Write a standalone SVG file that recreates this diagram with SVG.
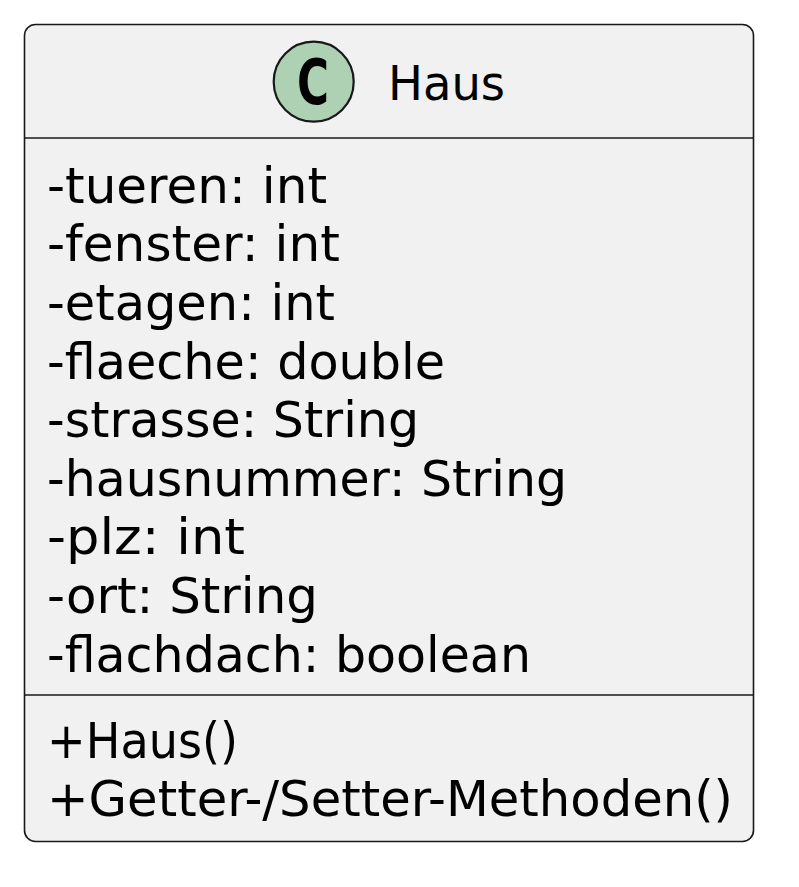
<svg xmlns="http://www.w3.org/2000/svg" width="799" height="887" viewBox="0 0 799 887">
  <style>
    .box { fill: #F1F1F1; stroke: #181818; stroke-width: 1.6; }
    .sep { stroke: #181818; stroke-width: 1.6; }
    .badge { fill: #ADD1B2; stroke: #181818; stroke-width: 2.2; }
    .badge-letter { font-family: "DejaVu Sans", sans-serif; font-weight: bold; font-size: 62px; fill: #000000; }
    .name { font-family: "DejaVu Sans", sans-serif; font-size: 48px; fill: #000000; }
    .member { font-family: "DejaVu Sans", sans-serif; font-size: 50px; fill: #000000; }
  </style>
  <rect width="799" height="887" fill="#FFFFFF"/>
  <g id="class-Haus">
    <rect class="box" x="24.5" y="24.5" width="729" height="817" rx="11" ry="11"/>
    <!-- class badge and name -->
    <circle class="badge" cx="313.7" cy="81.7" r="40"/>
    <text class="badge-letter" x="297" y="104" textLength="32" lengthAdjust="spacingAndGlyphs">C</text>
    <text class="name" x="388" y="100" textLength="117" lengthAdjust="spacingAndGlyphs">Haus</text>
    <line class="sep" x1="25" y1="138" x2="753" y2="138"/>
    <!-- attributes -->
    <g id="attributes">
      <text class="member" x="47" y="202.7" textLength="280" lengthAdjust="spacingAndGlyphs">-tueren: int</text>
      <text class="member" x="47" y="261.3" textLength="293" lengthAdjust="spacingAndGlyphs">-fenster: int</text>
      <text class="member" x="47" y="319.9" textLength="288" lengthAdjust="spacingAndGlyphs">-etagen: int</text>
      <text class="member" x="47" y="378.5" textLength="398" lengthAdjust="spacingAndGlyphs">-flaeche: double</text>
      <text class="member" x="47" y="437.1" textLength="372" lengthAdjust="spacingAndGlyphs">-strasse: String</text>
      <text class="member" x="47" y="495.7" textLength="520" lengthAdjust="spacingAndGlyphs">-hausnummer: String</text>
      <text class="member" x="47" y="554.3" textLength="198" lengthAdjust="spacingAndGlyphs">-plz: int</text>
      <text class="member" x="47" y="612.9" textLength="271" lengthAdjust="spacingAndGlyphs">-ort: String</text>
      <text class="member" x="47" y="671.5" textLength="484" lengthAdjust="spacingAndGlyphs">-flachdach: boolean</text>
    </g>
    <line class="sep" x1="25" y1="695" x2="753" y2="695"/>
    <!-- methods -->
    <g id="methods">
      <text class="member" x="47" y="757.7" textLength="191" lengthAdjust="spacingAndGlyphs">+Haus()</text>
      <text class="member" x="47" y="816.3" textLength="686" lengthAdjust="spacingAndGlyphs">+Getter-/Setter-Methoden()</text>
    </g>
  </g>
  <g id="connectors"/>
</svg>
